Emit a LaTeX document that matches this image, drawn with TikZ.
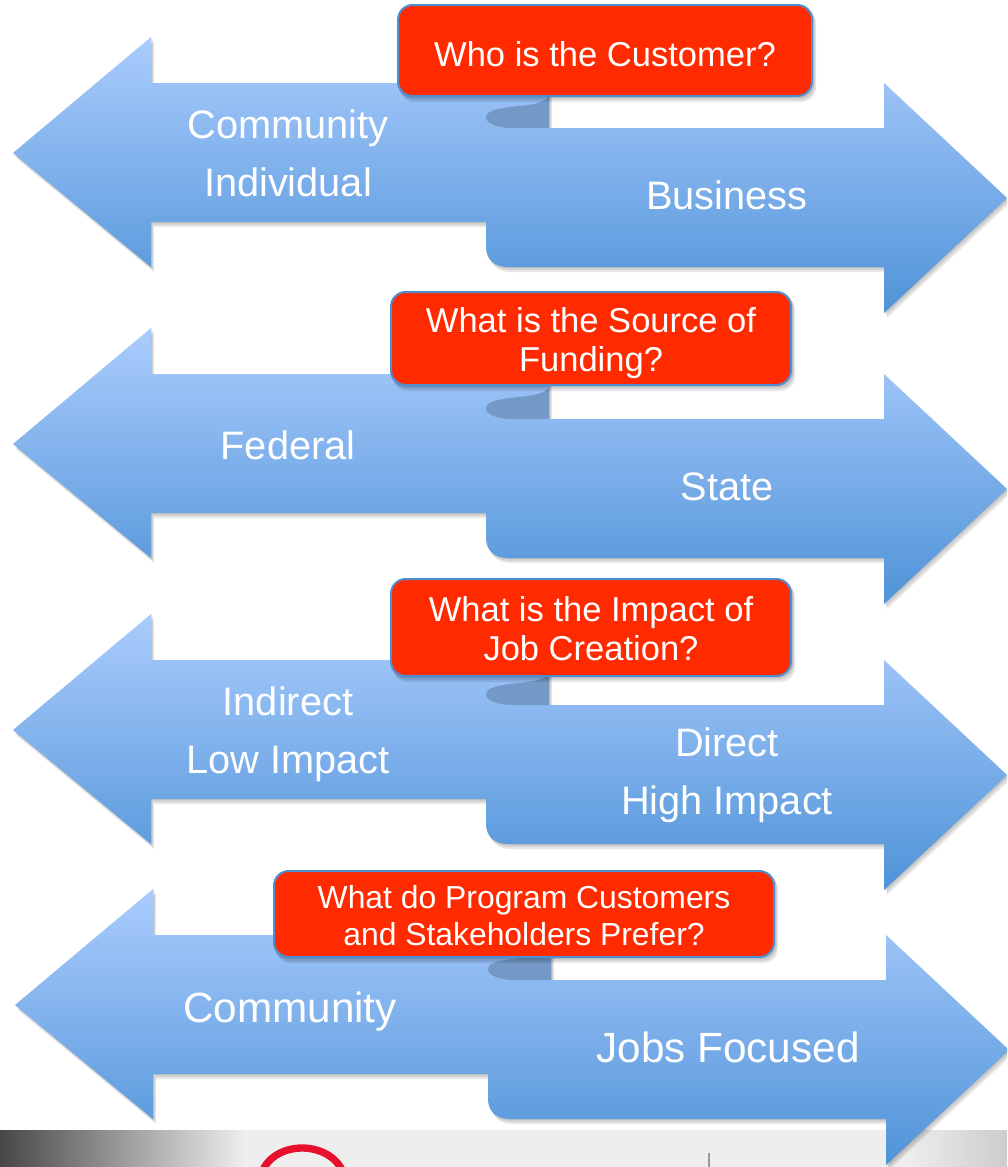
\documentclass[tikz,border=0pt]{standalone}
\usepackage{fontspec}
\setmainfont{Liberation Sans}
\definecolor{armtop}{HTML}{ABCCFD}
\definecolor{armbottom}{HTML}{4F93D8}
\definecolor{foldblue}{HTML}{7499C6}
\definecolor{askred}{HTML}{FF2A00}
\definecolor{askline}{HTML}{4F8FCF}
\definecolor{bandgray}{HTML}{EEEEEE}
\definecolor{logored}{HTML}{E8112D}
\tikzset{
    armfill/.style={shade, top color=armtop, bottom color=armbottom},
    softshadow/.style={fill=black, opacity=0.09},
    askbox/.style={rectangle, rounded corners=11pt, fill=askred, draw=askline, line width=1.5pt, inner sep=0pt},
    asktext/.style={text=white, align=center, inner sep=0pt},
    armlabel/.style={text=white, align=center, inner sep=0pt}
}
% the double arrow of one row, in pixels of the first row
\newcommand{\armpath}{(13,153) -- (151,37) -- (151,83) -- (549,83) -- (549,128) -- (884,128) -- (884,83) -- (1007,198) -- (884,313) -- (884,267) -- (508,267) .. controls (494,267) and (486,259) .. (486,247) -- (486,222) -- (151,222) -- (151,267) -- cycle}
\newcommand{\foldpart}{(549,97) .. controls (540,106) and (522,105) .. (510,107) .. controls (494,109) and (486,112) .. (486,117) .. controls (486,124) and (498,128) .. (513,128) -- (549,128) -- cycle}
\begin{document}
\begin{tikzpicture}[x=0.75pt, y=-0.75pt]
    \useasboundingbox (0,0) rectangle (1007,1167);
    \clip (0,0) rectangle (1007,1167);

    % band at the bottom
    \fill[bandgray] (0,1130) rectangle (1007,1167);
    \shade[left color=black!72, middle color=black!28, right color=bandgray] (0,1130) rectangle (245,1167);
    \shade[left color=bandgray, right color=black!20] (905,1130) rectangle (1007,1167);
    \draw[logored, line width=5.5pt] (262,1172) .. controls (275,1140) and (329,1140) .. (343,1172);
    \draw[black!40, line width=0.8pt] (709,1153) -- (709,1167);

    % the four rows of arrows
    \foreach \dx/\dy in {0/0, 0/291, 0/577, 2/852} {
        \begin{scope}[shift={(\dx,\dy)}]
            \foreach \sx/\sy in {1/1, 2/3, 3/5} {
                \fill[softshadow, shift={(\sx,\sy)}] \armpath;
            }
            \path[armfill] \armpath;
            \fill[foldblue] \foldpart;
        \end{scope}
    }

    % text on the arrows
    \foreach \name/\x/\y/\size/\skip/\txt in {
        community/288/153/29.8/43.5/{Community\\Individual},
        business/727/195/29.8/43.5/{Business},
        federal/288/445/29.8/43.5/{Federal},
        state/727/487/29.8/43.5/{State},
        indirect/288/734/29.8/43.5/{Indirect\\Low Impact},
        direct/727/775/29.8/43.5/{Direct\\High Impact},
        communityfour/290/1012/31.7/43.5/{Community},
        jobs/728/1047/31.7/43.5/{Jobs Focused}} {
        \node[armlabel, font=\fontsize{\size}{\skip}\selectfont] (\name) at (\x,\y) {\txt};
    }

    % shadows of the question boxes
    \foreach \sx/\sy in {1/1, 2/3, 3/5} {
        \begin{scope}[shift={(\sx,\sy)}]
            \fill[softshadow, rounded corners=11pt] (397,4) rectangle (813,97);
            \fill[softshadow, rounded corners=11pt] (390,291) rectangle (792,386);
            \fill[softshadow, rounded corners=11pt] (390,578) rectangle (792,677);
            \fill[softshadow, rounded corners=11pt] (273,870) rectangle (775,958);
        \end{scope}
    }

    % question boxes
    \node[askbox, minimum width=310.5pt, minimum height=68.25pt] (askcustomer) at (605,50.5) {};
    \node[asktext, font=\fontsize{25.9}{29.3}\selectfont] (askcustomertext) at ([yshift=-2.5pt]askcustomer.center) {Who is the Customer?};
    \node[askbox, minimum width=300pt, minimum height=69.75pt] (askfunding) at (591,338.5) {};
    \node[asktext, font=\fontsize{25.9}{29.3}\selectfont] (askfundingtext) at ([yshift=-3.75pt]askfunding.center) {What is the Source of\\Funding?};
    \node[askbox, minimum width=300pt, minimum height=72.75pt] (askimpact) at (591,627.5) {};
    \node[asktext, font=\fontsize{25.9}{29.3}\selectfont] (askimpacttext) at ([yshift=-1pt]askimpact.center) {What is the Impact of\\Job Creation?};
    \node[askbox, minimum width=375pt, minimum height=64.5pt] (askprefer) at (524,914) {};
    \node[asktext, font=\fontsize{23.9}{27.8}\selectfont] (askprefertext) at ([yshift=-1.5pt]askprefer.center) {What do Program Customers\\and Stakeholders Prefer?};
\end{tikzpicture}
\end{document}
